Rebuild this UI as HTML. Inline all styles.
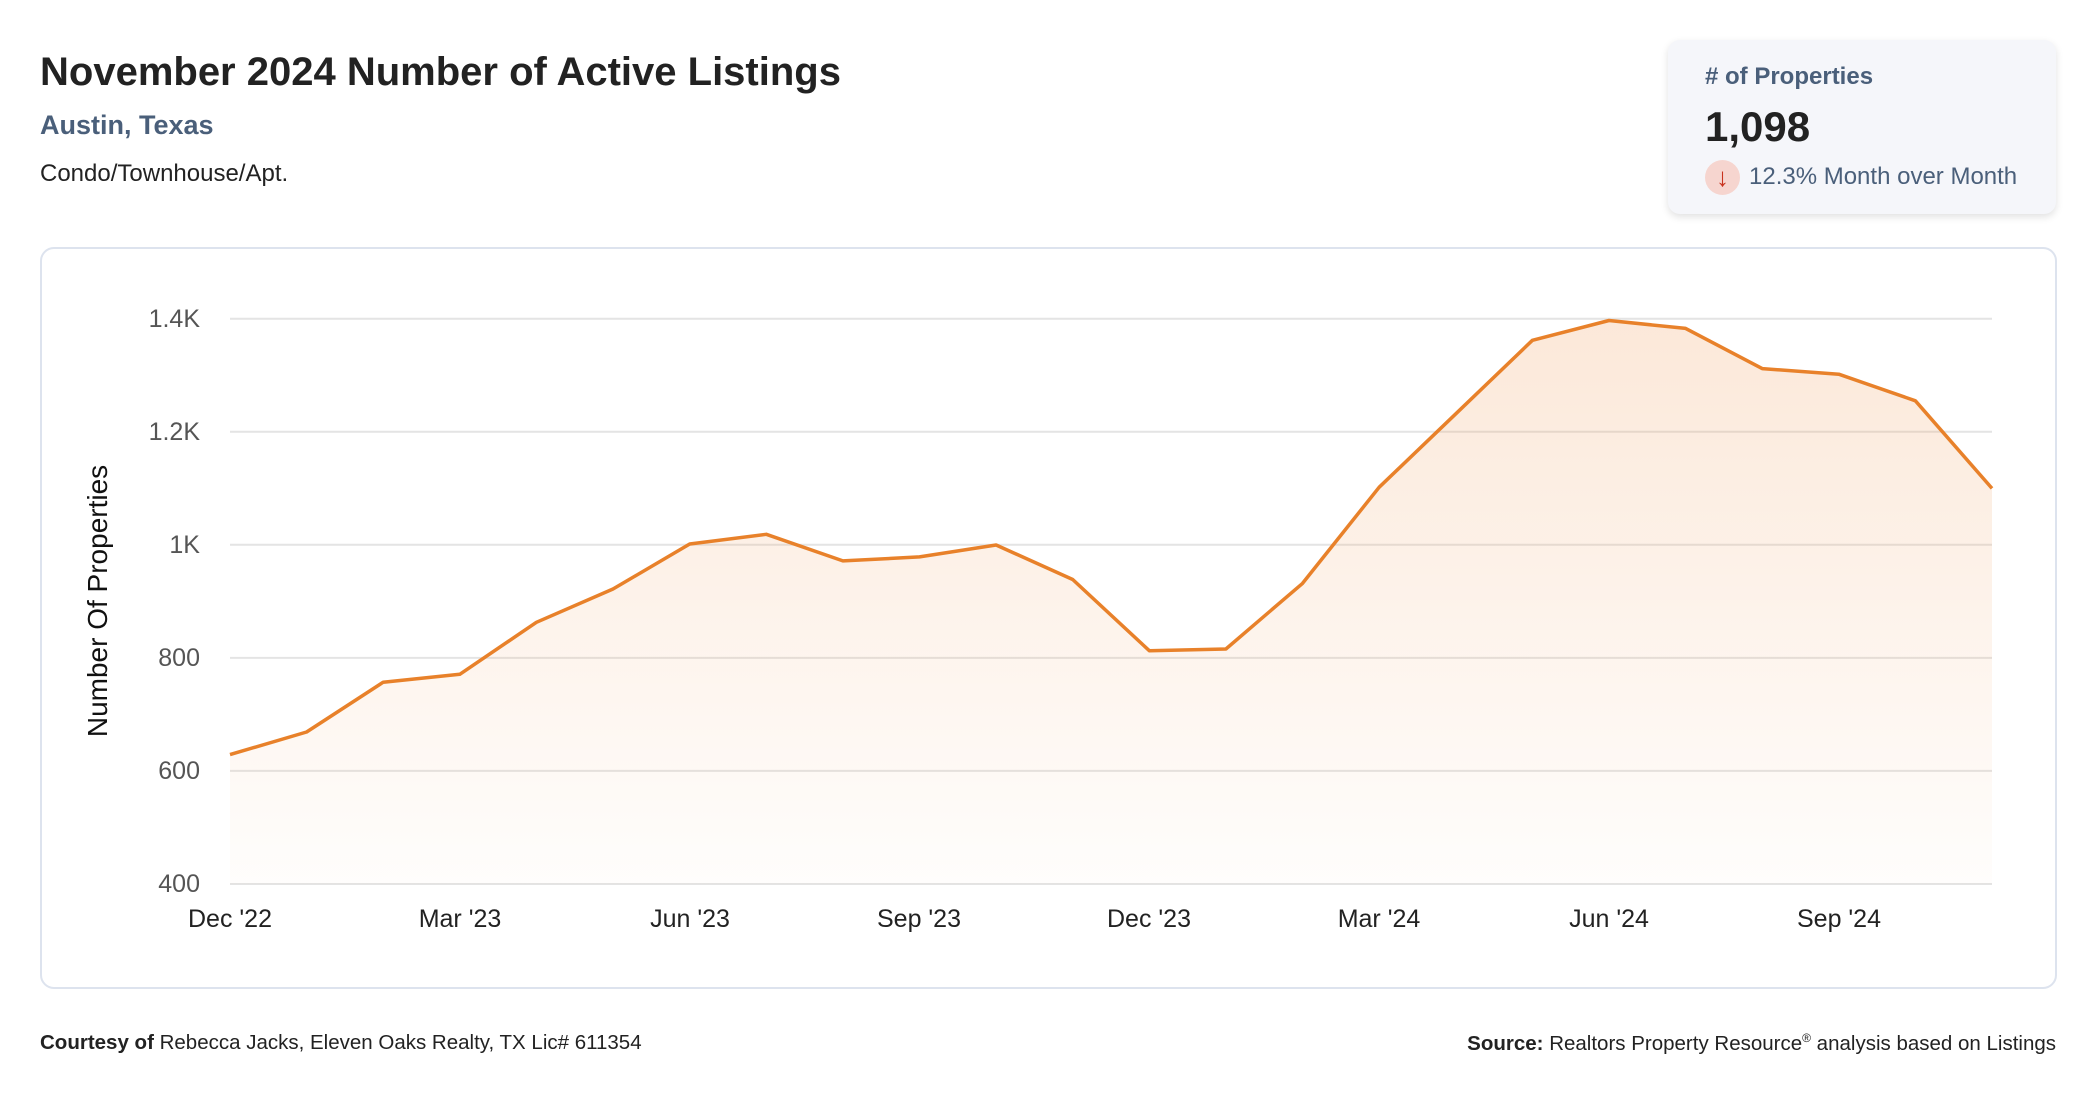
<!DOCTYPE html>
<html><head><meta charset="utf-8"><style>
body{margin:0;width:2096px;height:1100px;background:#fff;font-family:"Liberation Sans",Arial,sans-serif;position:relative;overflow:hidden}
.a{position:absolute;white-space:nowrap}
</style></head><body>
<div class="a" style="left:40px;top:50px;font-size:40px;font-weight:bold;color:#222">November 2024 Number of Active Listings</div>
<div class="a" style="left:40px;top:110px;font-size:27px;font-weight:bold;color:#4a5f7a">Austin, Texas</div>
<div class="a" style="left:40px;top:160px;font-size:24px;color:#222">Condo/Townhouse/Apt.</div>
<div class="a" style="left:1668px;top:40px;width:388px;height:174px;background:#f5f6fa;border-radius:12px;box-shadow:0 3px 8px rgba(0,0,0,0.12)"></div>
<div class="a" style="left:1705px;top:63px;font-size:24px;font-weight:bold;color:#4a5f7a"># of Properties</div>
<div class="a" style="left:1705px;top:103px;font-size:42px;font-weight:bold;color:#222">1,098</div>
<div class="a" style="left:1705px;top:160px;width:35px;height:35px;border-radius:50%;background:#f6d5cf;color:#c8321e;font-size:26px;font-weight:bold;text-align:center;line-height:35px">↓</div>
<div class="a" style="left:1749px;top:163px;font-size:24px;color:#4a5f7a">12.3% Month over Month</div>
<div class="a" style="left:40px;top:247px;width:2013px;height:738px;border:2px solid #dde3ee;border-radius:14px"></div>
<svg class="a" style="left:0;top:0" width="2096" height="1100">
<defs><linearGradient id="g" x1="0" y1="0" x2="0" y2="1"><stop offset="0" stop-color="#f0a060" stop-opacity="0.24"/><stop offset="1" stop-color="#f0a060" stop-opacity="0.02"/></linearGradient></defs>
<g stroke="#e4e4e4" stroke-width="2">
<line x1="230" x2="1992" y1="318.7" y2="318.7"/><line x1="230" x2="1992" y1="431.8" y2="431.8"/><line x1="230" x2="1992" y1="544.8" y2="544.8"/><line x1="230" x2="1992" y1="657.9" y2="657.9"/><line x1="230" x2="1992" y1="770.9" y2="770.9"/><line x1="230" x2="1992" y1="884" y2="884"/></g>
<g font-size="25" fill="#555" text-anchor="end">
<text x="200" y="327">1.4K</text><text x="200" y="440">1.2K</text><text x="200" y="553">1K</text><text x="200" y="666">800</text><text x="200" y="779">600</text><text x="200" y="892">400</text></g>
<g font-size="25" fill="#222" text-anchor="middle">
<text x="230" y="927">Dec '22</text><text x="460" y="927">Mar '23</text><text x="690" y="927">Jun '23</text><text x="919" y="927">Sep '23</text><text x="1149" y="927">Dec '23</text><text x="1379" y="927">Mar '24</text><text x="1609" y="927">Jun '24</text><text x="1839" y="927">Sep '24</text></g>
<text transform="translate(107,601) rotate(-90)" font-size="28" fill="#111" text-anchor="middle">Number Of Properties</text>
<path d="M230,754.6 L306.6,732 L383.2,682.2 L459.8,674.3 L536.4,622.3 L613,589 L689.7,544 L766.3,534.3 L842.9,560.9 L919.5,556.9 L996.1,545 L1072.7,579.5 L1149.3,650.7 L1225.9,649 L1302.5,583.4 L1379.1,487.3 L1455.8,413.8 L1532.4,340.3 L1609,320.5 L1685.6,328.4 L1762.2,368.6 L1838.8,374.2 L1915.4,400.8 L1992,488.4 L1992,884 L230,884 Z" fill="url(#g)"/>
<path d="M230,754.6 L306.6,732 L383.2,682.2 L459.8,674.3 L536.4,622.3 L613,589 L689.7,544 L766.3,534.3 L842.9,560.9 L919.5,556.9 L996.1,545 L1072.7,579.5 L1149.3,650.7 L1225.9,649 L1302.5,583.4 L1379.1,487.3 L1455.8,413.8 L1532.4,340.3 L1609,320.5 L1685.6,328.4 L1762.2,368.6 L1838.8,374.2 L1915.4,400.8 L1992,488.4" fill="none" stroke="#e8812a" stroke-width="3.5" stroke-linejoin="round"/>
</svg>
<div class="a" style="left:40px;top:1031px;font-size:20.5px;color:#222"><b>Courtesy of</b> Rebecca Jacks, Eleven Oaks Realty, TX Lic# 611354</div>
<div class="a" style="right:40px;top:1031px;font-size:20.5px;color:#222"><b>Source:</b> Realtors Property Resource<sup style="font-size:12px">®</sup> analysis based on Listings</div>
</body></html>
